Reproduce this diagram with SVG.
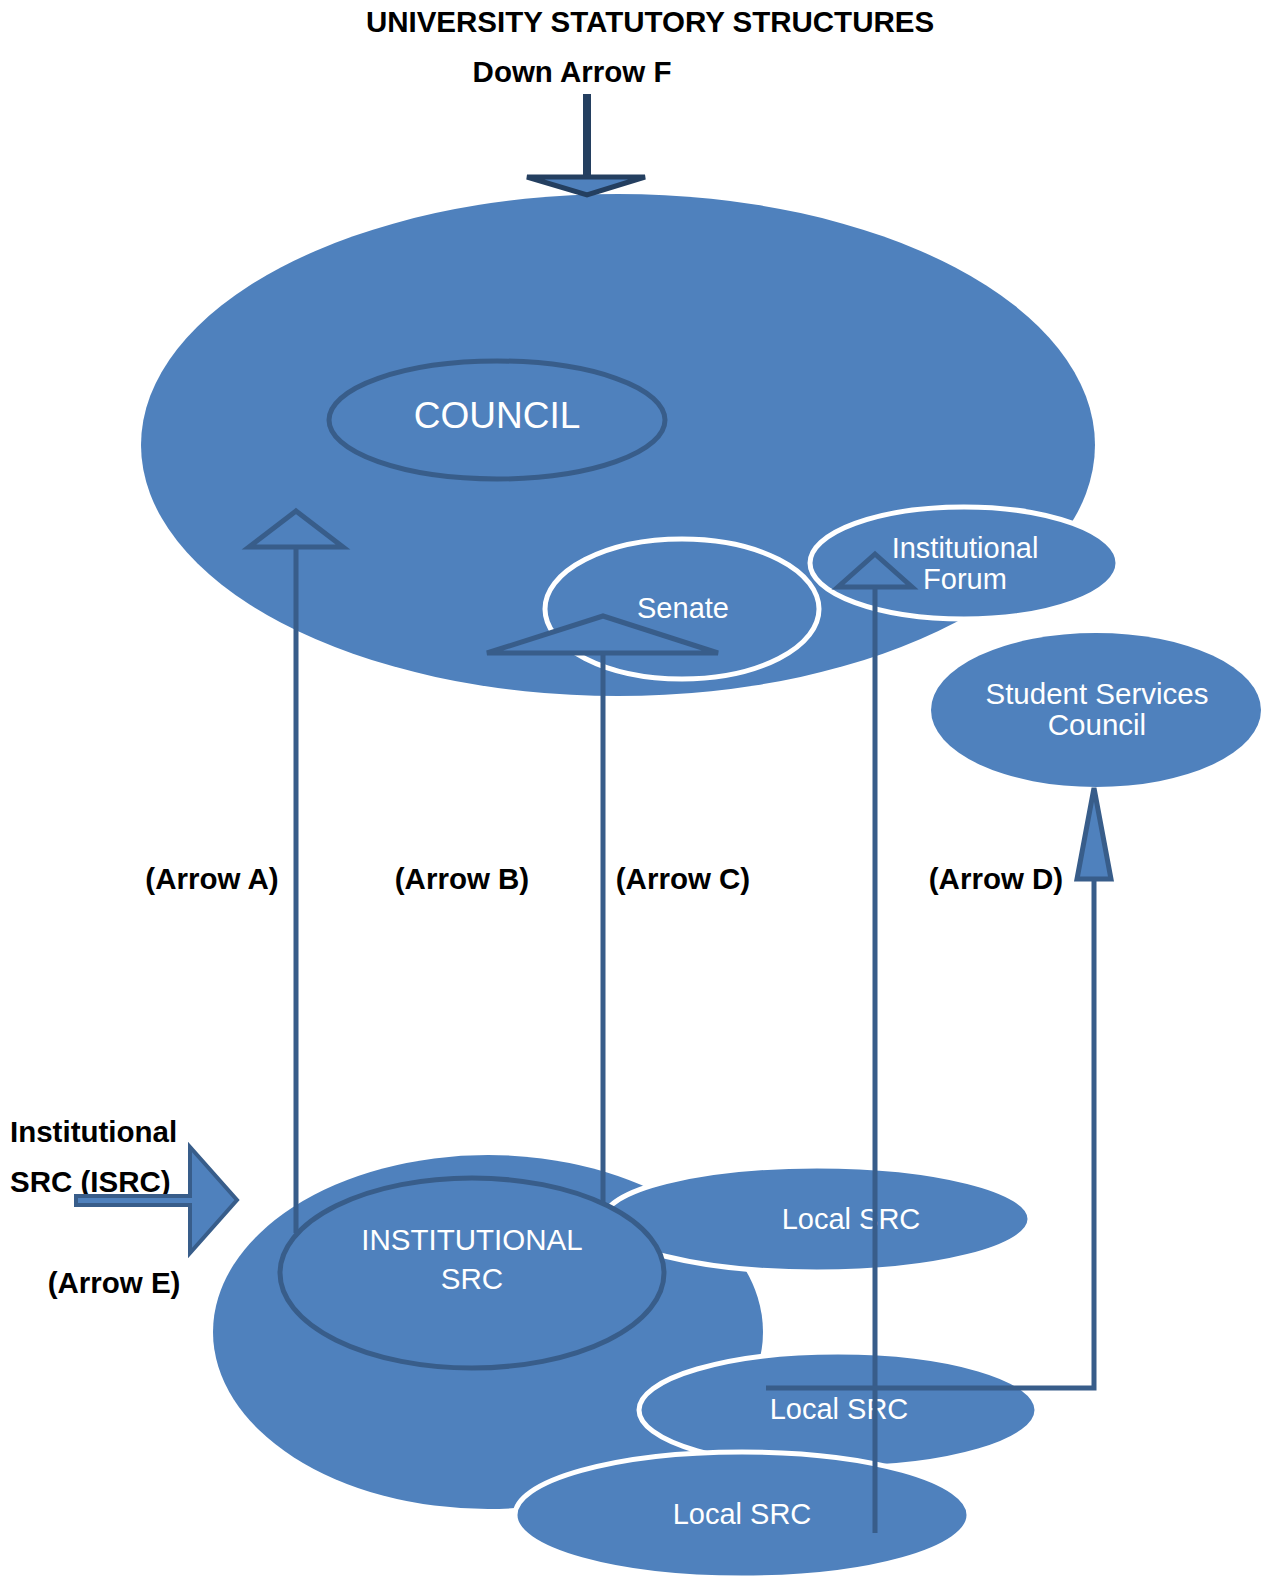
<svg xmlns="http://www.w3.org/2000/svg" width="1261" height="1576" viewBox="0 0 1261 1576">
  <style>
    .blob { fill: #4F81BD; }
    .ring-dark { fill: #4F81BD; stroke: #385D8A; stroke-width: 5; }
    .ring-white { fill: #4F81BD; stroke: #FFFFFF; stroke-width: 5; }
    .in { font-family: "Liberation Sans", Arial, sans-serif; fill: #FFFFFF; text-anchor: middle; }
    .lbl { font-family: "Liberation Sans", Arial, sans-serif; font-weight: bold; fill: #000000; font-size: 29.5px; }
    .wire { fill: none; stroke: #385D8A; stroke-width: 5; }
    .head { fill: #4F81BD; stroke: #385D8A; stroke-width: 5; stroke-linejoin: miter; }
  </style>
  <rect x="0" y="0" width="1261" height="1576" fill="#FFFFFF"/>

  <!-- Titles -->
  <text class="lbl" x="650" y="32" text-anchor="middle" font-size="30">UNIVERSITY STATUTORY STRUCTURES</text>
  <text class="lbl" x="572" y="82" text-anchor="middle">Down Arrow F</text>

  <!-- University statutory structures (upper cluster) -->
  <g id="university">
    <ellipse class="blob" cx="618" cy="445" rx="477" ry="251"/>
  </g>
  <g id="council">
    <ellipse class="ring-dark" cx="497" cy="420" rx="168" ry="59"/>
    <text class="in" x="497" y="428" font-size="37">COUNCIL</text>
  </g>
  <g id="senate">
    <ellipse class="ring-white" cx="682" cy="609" rx="137" ry="70"/>
    <text class="in" x="683" y="618" font-size="29">Senate</text>
  </g>
  <g id="institutional-forum">
    <ellipse class="ring-white" cx="964" cy="563" rx="154" ry="56"/>
    <text class="in" x="965" y="558" font-size="29">Institutional</text>
    <text class="in" x="965" y="589" font-size="29">Forum</text>
  </g>
  <g id="student-services-council">
    <ellipse class="blob" cx="1096" cy="710" rx="165" ry="77"/>
    <text class="in" x="1097" y="704" font-size="29.5">Student Services</text>
    <text class="in" x="1097" y="735" font-size="29.5">Council</text>
  </g>

  <!-- Student representative councils (lower cluster) -->
  <g id="src-body">
    <ellipse class="blob" cx="488" cy="1332" rx="275" ry="177"/>
  </g>
  <g id="local-src-1">
    <ellipse class="ring-white" cx="817" cy="1219" rx="213" ry="53"/>
    <text class="in" x="851" y="1229" font-size="29">Local SRC</text>
  </g>
  <g id="institutional-src">
    <ellipse class="ring-dark" cx="472" cy="1273" rx="192" ry="95"/>
    <text class="in" x="472" y="1250" font-size="29.5">INSTITUTIONAL</text>
    <text class="in" x="472" y="1289" font-size="29.5">SRC</text>
  </g>
  <g id="local-src-2">
    <ellipse class="ring-white" cx="838" cy="1410" rx="199" ry="58"/>
    <text class="in" x="839" y="1419" font-size="29">Local SRC</text>
  </g>
  <g id="local-src-3">
    <ellipse class="ring-white" cx="742" cy="1515" rx="227" ry="63"/>
    <text class="in" x="742" y="1524" font-size="29">Local SRC</text>
  </g>

  <!-- Arrow labels -->
  <g id="labels">
    <text class="lbl" x="212" y="889" text-anchor="middle">(Arrow A)</text>
    <text class="lbl" x="462" y="889" text-anchor="middle">(Arrow B)</text>
    <text class="lbl" x="683" y="889" text-anchor="middle">(Arrow C)</text>
    <text class="lbl" x="996" y="889" text-anchor="middle">(Arrow D)</text>
    <text class="lbl" x="10" y="1142">Institutional</text>
    <text class="lbl" x="10" y="1192">SRC (ISRC)</text>
    <text class="lbl" x="114" y="1293" text-anchor="middle">(Arrow E)</text>
  </g>

  <!-- Connectors -->
  <g id="connectors">
    <!-- Arrow F: down into the university -->
    <line x1="587" y1="94" x2="587" y2="178" stroke="#243F60" stroke-width="8"/>
    <polygon points="527,177 645,177 587,195" fill="#4F81BD" stroke="#243F60" stroke-width="5"/>

    <!-- Arrow A: ISRC up to council -->
    <line class="wire" x1="296" y1="1233" x2="296" y2="548"/>
    <polygon class="head" points="296,511 343,547 249,547"/>

    <!-- Arrow C: ISRC up to senate -->
    <line class="wire" x1="603" y1="1203" x2="603" y2="654"/>
    <polygon class="head" points="603,616 718,653 487,653"/>

    <!-- Arrow B: local SRCs up to institutional forum -->
    <line class="wire" x1="875" y1="1533" x2="875" y2="588"/>
    <polygon class="head" points="875,554 912,587 838,587"/>

    <!-- Arrow D: local SRC up to student services council -->
    <polyline class="wire" points="766,1388 1094,1388 1094,880"/>
    <polygon class="head" points="1094,788 1111,879 1077,879"/>

    <!-- Arrow E: into the institutional SRC -->
    <path d="M76,1196 L190,1196 L190,1147 L237,1200 L190,1253 L190,1205 L76,1205 Z" fill="#4F81BD" stroke="#385D8A" stroke-width="4"/>
  </g>
</svg>
